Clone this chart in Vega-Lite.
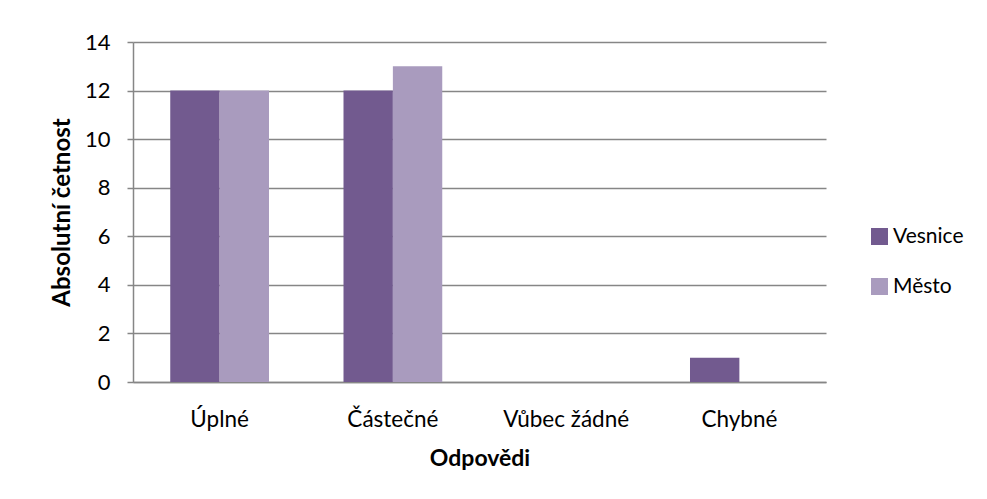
{
  "$schema": "https://vega.github.io/schema/vega-lite/v6.json",
  "width": 693,
  "height": 340,
  "autosize": {"type": "none"},
  "padding": {"left": 133, "top": 42, "right": 161, "bottom": 117},
  "background": "white",
  "config": {
    "font": "Lato",
    "view": {"stroke": null}
  },
  "data": {
    "values": [
      {"odpoved": "Úplné", "skupina": "Vesnice", "cetnost": 12},
      {"odpoved": "Úplné", "skupina": "Město", "cetnost": 12},
      {"odpoved": "Částečné", "skupina": "Vesnice", "cetnost": 12},
      {"odpoved": "Částečné", "skupina": "Město", "cetnost": 13},
      {"odpoved": "Vůbec žádné", "skupina": "Vesnice", "cetnost": 0},
      {"odpoved": "Vůbec žádné", "skupina": "Město", "cetnost": 0},
      {"odpoved": "Chybné", "skupina": "Vesnice", "cetnost": 1},
      {"odpoved": "Chybné", "skupina": "Město", "cetnost": 0}
    ]
  },
  "mark": {"type": "bar"},
  "encoding": {
    "x": {
      "field": "odpoved",
      "type": "nominal",
      "sort": ["Úplné", "Částečné", "Vůbec žádné", "Chybné"],
      "scale": {"paddingInner": 0.43, "paddingOuter": 0.215},
      "axis": {
        "title": "Odpovědi",
        "titleFontSize": 23,
        "titleFontWeight": "bold",
        "titleColor": "black",
        "titlePadding": 17,
        "labelAngle": 0,
        "labelFontSize": 22.5,
        "labelColor": "black",
        "labelPadding": 26,
        "ticks": false,
        "domainColor": "#868686",
        "domainWidth": 1.5,
        "grid": false
      }
    },
    "xOffset": {
      "field": "skupina",
      "type": "nominal",
      "sort": ["Vesnice", "Město"],
      "scale": {"paddingInner": 0, "paddingOuter": 0}
    },
    "y": {
      "field": "cetnost",
      "type": "quantitative",
      "scale": {"domain": [0, 14], "nice": false},
      "axis": {
        "title": "Absolutní četnost",
        "titleFontSize": 24,
        "titleFontWeight": "bold",
        "titleColor": "black",
        "titlePadding": 10,
        "values": [0, 2, 4, 6, 8, 10, 12, 14],
        "labelFontSize": 22,
        "labelColor": "black",
        "labelPadding": 17,
        "tickSize": 6,
        "tickColor": "#868686",
        "tickWidth": 1.5,
        "domainColor": "#868686",
        "domainWidth": 1.5,
        "gridColor": "#868686",
        "gridWidth": 1.5
      }
    },
    "color": {
      "field": "skupina",
      "type": "nominal",
      "sort": ["Vesnice", "Město"],
      "scale": {"domain": ["Vesnice", "Město"], "range": ["#725A8F", "#A99BBE"]},
      "legend": {
        "title": null,
        "orient": "none",
        "legendX": 736,
        "legendY": 184,
        "symbolType": "square",
        "symbolSize": 289,
        "symbolStrokeWidth": 0,
        "labelFontSize": 21,
        "labelColor": "black",
        "labelOffset": 3,
        "rowPadding": 28
      }
    }
  }
}
